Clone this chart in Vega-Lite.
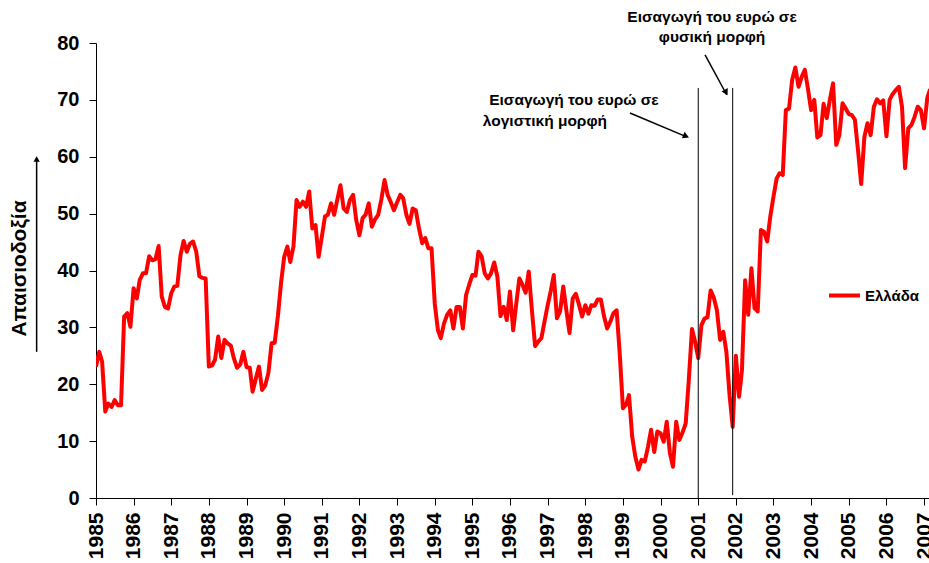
{
  "$schema": "https://vega.github.io/schema/vega-lite/v6.json",
  "width": 833,
  "height": 455,
  "autosize": {"type": "none"},
  "padding": {"left": 96, "top": 43, "right": 0, "bottom": 65},
  "background": "white",
  "config": {
    "view": {"stroke": null},
    "font": "Liberation Sans",
    "axis": {"grid": false, "domainColor": "black", "domainWidth": 1, "tickColor": "black", "tickWidth": 1, "tickSize": 7, "labelColor": "black", "labelFont": "Liberation Sans", "labelFontWeight": "bold", "titleFont": "Liberation Sans", "titleColor": "black", "titleFontWeight": "bold", "titleFontSize": 21}
  },
  "datasets": {
    "greece": [
      {"d":"1985-01","v":23.1},{"d":"1985-02","v":25.7},{"d":"1985-03","v":24},{"d":"1985-04","v":15.2},{"d":"1985-05","v":16.6},{"d":"1985-06","v":16},{"d":"1985-07","v":17.2},{"d":"1985-08","v":16.3},{"d":"1985-09","v":16.3},{"d":"1985-10","v":31.9},{"d":"1985-11","v":32.5},{"d":"1985-12","v":30.1},
      {"d":"1986-01","v":36.9},{"d":"1986-02","v":35.1},{"d":"1986-03","v":38.3},{"d":"1986-04","v":39.5},{"d":"1986-05","v":39.5},{"d":"1986-06","v":42.5},{"d":"1986-07","v":41.8},{"d":"1986-08","v":42},{"d":"1986-09","v":44.3},{"d":"1986-10","v":35.4},{"d":"1986-11","v":33.6},{"d":"1986-12","v":33.3},
      {"d":"1987-01","v":36},{"d":"1987-02","v":37.2},{"d":"1987-03","v":37.3},{"d":"1987-04","v":42.7},{"d":"1987-05","v":45.2},{"d":"1987-06","v":43.3},{"d":"1987-07","v":44.7},{"d":"1987-08","v":45.1},{"d":"1987-09","v":43.3},{"d":"1987-10","v":39},{"d":"1987-11","v":38.7},{"d":"1987-12","v":38.6},
      {"d":"1988-01","v":23.1},{"d":"1988-02","v":23.3},{"d":"1988-03","v":24.3},{"d":"1988-04","v":28.4},{"d":"1988-05","v":24.6},{"d":"1988-06","v":27.8},{"d":"1988-07","v":27.2},{"d":"1988-08","v":26.8},{"d":"1988-09","v":24.5},{"d":"1988-10","v":22.9},{"d":"1988-11","v":23.5},{"d":"1988-12","v":25.7},
      {"d":"1989-01","v":23},{"d":"1989-02","v":22.9},{"d":"1989-03","v":18.7},{"d":"1989-04","v":21},{"d":"1989-05","v":23.1},{"d":"1989-06","v":19},{"d":"1989-07","v":19.8},{"d":"1989-08","v":22},{"d":"1989-09","v":27.2},{"d":"1989-10","v":27.3},{"d":"1989-11","v":32},{"d":"1989-12","v":37.7},
      {"d":"1990-01","v":42.4},{"d":"1990-02","v":44.2},{"d":"1990-03","v":41.5},{"d":"1990-04","v":44.2},{"d":"1990-05","v":52.4},{"d":"1990-06","v":51.2},{"d":"1990-07","v":52.1},{"d":"1990-08","v":51.2},{"d":"1990-09","v":53.9},{"d":"1990-10","v":47.4},{"d":"1990-11","v":48},{"d":"1990-12","v":42.4},
      {"d":"1991-01","v":45.9},{"d":"1991-02","v":49.5},{"d":"1991-03","v":49.8},{"d":"1991-04","v":51.8},{"d":"1991-05","v":49.8},{"d":"1991-06","v":52.5},{"d":"1991-07","v":55},{"d":"1991-08","v":50.9},{"d":"1991-09","v":50.3},{"d":"1991-10","v":52.4},{"d":"1991-11","v":53.3},{"d":"1991-12","v":48.9},
      {"d":"1992-01","v":46.2},{"d":"1992-02","v":49.2},{"d":"1992-03","v":49.8},{"d":"1992-04","v":51.8},{"d":"1992-05","v":47.7},{"d":"1992-06","v":49},{"d":"1992-07","v":49.8},{"d":"1992-08","v":52.5},{"d":"1992-09","v":55.9},{"d":"1992-10","v":53.3},{"d":"1992-11","v":52},{"d":"1992-12","v":50.6},
      {"d":"1993-01","v":52},{"d":"1993-02","v":53.3},{"d":"1993-03","v":52.7},{"d":"1993-04","v":49.8},{"d":"1993-05","v":48.2},{"d":"1993-06","v":50.9},{"d":"1993-07","v":50.6},{"d":"1993-08","v":47.4},{"d":"1993-09","v":44.8},{"d":"1993-10","v":45.7},{"d":"1993-11","v":43.9},{"d":"1993-12","v":43.9},
      {"d":"1994-01","v":34.2},{"d":"1994-02","v":29.5},{"d":"1994-03","v":28.1},{"d":"1994-04","v":30.7},{"d":"1994-05","v":32.2},{"d":"1994-06","v":33},{"d":"1994-07","v":29.8},{"d":"1994-08","v":33.6},{"d":"1994-09","v":33.6},{"d":"1994-10","v":29.8},{"d":"1994-11","v":35.7},{"d":"1994-12","v":37.5},
      {"d":"1995-01","v":39.2},{"d":"1995-02","v":39.1},{"d":"1995-03","v":43.3},{"d":"1995-04","v":42.5},{"d":"1995-05","v":39.5},{"d":"1995-06","v":38.6},{"d":"1995-07","v":39.5},{"d":"1995-08","v":41.4},{"d":"1995-09","v":38.9},{"d":"1995-10","v":32},{"d":"1995-11","v":33.6},{"d":"1995-12","v":31.3},
      {"d":"1996-01","v":36.3},{"d":"1996-02","v":29.5},{"d":"1996-03","v":34},{"d":"1996-04","v":38.6},{"d":"1996-05","v":37.5},{"d":"1996-06","v":36.1},{"d":"1996-07","v":39.8},{"d":"1996-08","v":33},{"d":"1996-09","v":26.7},{"d":"1996-10","v":27.5},{"d":"1996-11","v":28.1},{"d":"1996-12","v":31},
      {"d":"1997-01","v":33.9},{"d":"1997-02","v":36.5},{"d":"1997-03","v":39.2},{"d":"1997-04","v":31.6},{"d":"1997-05","v":32.8},{"d":"1997-06","v":37.2},{"d":"1997-07","v":33},{"d":"1997-08","v":29},{"d":"1997-09","v":35.1},{"d":"1997-10","v":35.9},{"d":"1997-11","v":34},{"d":"1997-12","v":31.9},
      {"d":"1998-01","v":33.9},{"d":"1998-02","v":32.4},{"d":"1998-03","v":33.9},{"d":"1998-04","v":33.8},{"d":"1998-05","v":34.9},{"d":"1998-06","v":34.9},{"d":"1998-07","v":32},{"d":"1998-08","v":29.8},{"d":"1998-09","v":31},{"d":"1998-10","v":32.5},{"d":"1998-11","v":33},{"d":"1998-12","v":25.4},
      {"d":"1999-01","v":15.8},{"d":"1999-02","v":16.4},{"d":"1999-03","v":18.1},{"d":"1999-04","v":10.8},{"d":"1999-05","v":7.3},{"d":"1999-06","v":5},{"d":"1999-07","v":6.7},{"d":"1999-08","v":6.4},{"d":"1999-09","v":9},{"d":"1999-10","v":12},{"d":"1999-11","v":8.1},{"d":"1999-12","v":11.7},
      {"d":"2000-01","v":11.4},{"d":"2000-02","v":9.9},{"d":"2000-03","v":13.4},{"d":"2000-04","v":7.9},{"d":"2000-05","v":5.5},{"d":"2000-06","v":13.4},{"d":"2000-07","v":10.2},{"d":"2000-08","v":11.5},{"d":"2000-09","v":13.1},{"d":"2000-10","v":20.7},{"d":"2000-11","v":29.7},{"d":"2000-12","v":27.5},
      {"d":"2001-01","v":24.6},{"d":"2001-02","v":30.4},{"d":"2001-03","v":31.5},{"d":"2001-04","v":31.8},{"d":"2001-05","v":36.5},{"d":"2001-06","v":35.2},{"d":"2001-07","v":33},{"d":"2001-08","v":27.8},{"d":"2001-09","v":29.2},{"d":"2001-10","v":25.7},{"d":"2001-11","v":18},{"d":"2001-12","v":12.5},
      {"d":"2002-01","v":25},{"d":"2002-02","v":17.8},{"d":"2002-03","v":22.5},{"d":"2002-04","v":38.3},{"d":"2002-05","v":32.2},{"d":"2002-06","v":40.4},{"d":"2002-07","v":33.4},{"d":"2002-08","v":32.8},{"d":"2002-09","v":47.1},{"d":"2002-10","v":46.8},{"d":"2002-11","v":45.1},{"d":"2002-12","v":49.5},
      {"d":"2003-01","v":53},{"d":"2003-02","v":56.2},{"d":"2003-03","v":57.1},{"d":"2003-04","v":56.8},{"d":"2003-05","v":68.2},{"d":"2003-06","v":68.5},{"d":"2003-07","v":73.5},{"d":"2003-08","v":75.7},{"d":"2003-09","v":72.3},{"d":"2003-10","v":74},{"d":"2003-11","v":75.3},{"d":"2003-12","v":72},
      {"d":"2004-01","v":68.2},{"d":"2004-02","v":70},{"d":"2004-03","v":63.4},{"d":"2004-04","v":63.8},{"d":"2004-05","v":69.3},{"d":"2004-06","v":66.8},{"d":"2004-07","v":70},{"d":"2004-08","v":72.9},{"d":"2004-09","v":62.1},{"d":"2004-10","v":63.8},{"d":"2004-11","v":69.4},{"d":"2004-12","v":68.5},
      {"d":"2005-01","v":67.5},{"d":"2005-02","v":67.3},{"d":"2005-03","v":66.5},{"d":"2005-04","v":61},{"d":"2005-05","v":55.2},{"d":"2005-06","v":63.5},{"d":"2005-07","v":65.9},{"d":"2005-08","v":63.8},{"d":"2005-09","v":68.8},{"d":"2005-10","v":70.1},{"d":"2005-11","v":69.4},{"d":"2005-12","v":69.9},
      {"d":"2006-01","v":63.6},{"d":"2006-02","v":70},{"d":"2006-03","v":71},{"d":"2006-04","v":71.7},{"d":"2006-05","v":72.3},{"d":"2006-06","v":68.8},{"d":"2006-07","v":58},{"d":"2006-08","v":65},{"d":"2006-09","v":65.6},{"d":"2006-10","v":67},{"d":"2006-11","v":68.8},{"d":"2006-12","v":68.2},
      {"d":"2007-01","v":65},{"d":"2007-02","v":70.3},{"d":"2007-03","v":71.9}
    ]
  },
  "layer": [
    {
      "data": {"name": "greece"},
      "mark": {"type": "line", "color": "#ff0000", "strokeWidth": 4, "clip": true, "strokeJoin": "round"},
      "encoding": {
        "x": {"field": "d", "type": "temporal", "title": null,
          "scale": {"type": "utc", "domain": [{"year": 1985, "month": 1, "date": 1, "utc": true}, {"year": 2007, "month": 2, "date": 18, "utc": true}]},
          "axis": {"tickCount": {"interval": "year", "step": 1}, "format": "%Y", "labelAngle": -90, "labelFontSize": 21, "labelPadding": 7, "labelOverlap": false, "labelBound": false, "labelFlush": false}},
        "y": {"field": "v", "type": "quantitative", "title": "Απαισιοδοξία",
          "scale": {"domain": [0, 80], "nice": false},
          "axis": {"values": [0, 10, 20, 30, 40, 50, 60, 70, 80], "titleFontSize": 21, "titleFontWeight": "bold", "titleAngle": -90, "titleX": -71, "titleY": 225, "titleAlign": "center", "titleBaseline": "alphabetic", "labelFontSize": 20, "labelPadding": 10}},
        "color": {"datum": "Ελλάδα", "type": "nominal",
          "scale": {"range": ["#ff0000"]},
          "legend": {"title": null, "orient": "none", "legendX": 731, "legendY": 235, "symbolType": "stroke", "symbolSize": 961, "symbolStrokeWidth": 4, "labelFontSize": 15, "labelFontWeight": "bold", "labelColor": "black", "labelOffset": 3, "padding": 0}}
      }
    },
    {
      "data": {"values": [{"d": "2001-01-01", "v": 0, "v2": 72.1}, {"d": "2001-12-01", "v": 0.5, "v2": 72.1}]},
      "mark": {"type": "rule", "color": "black", "strokeWidth": 1},
      "encoding": {"x": {"field": "d", "type": "temporal", "title": null}, "y": {"field": "v", "type": "quantitative", "title": "Απαισιοδοξία"}, "y2": {"field": "v2"}}
    },
    {
      "data": {"values": [
        {"d": "2001-05-15", "v": 84.6, "t": "Εισαγωγή του ευρώ σε"},
        {"d": "2001-05-15", "v": 81.05, "t": "φυσική μορφή"},
        {"d": "1997-09-13", "v": 69.98, "t": "Εισαγωγή του ευρώ σε"},
        {"d": "1996-12-05", "v": 66.29, "t": "λογιστική μορφή"}
      ]},
      "mark": {"type": "text", "fontSize": 15.5, "fontWeight": "bold", "color": "black", "align": "center", "baseline": "middle"},
      "encoding": {"x": {"field": "d", "type": "temporal", "title": null}, "y": {"field": "v", "type": "quantitative", "title": "Απαισιοδοξία"}, "text": {"field": "t"}}
    },
    {
      "data": {"values": [
        {"d": "1999-03-10", "v": 67.7, "d2": "2000-09-11", "v2": 63.5},
        {"d": "2001-03-08", "v": 77.9, "d2": "2001-10-04", "v2": 70.9},
        {"d": "1983-06-05", "v": 25.7, "d2": "1983-06-05", "v2": 59.5}
      ]},
      "mark": {"type": "rule", "color": "black", "strokeWidth": 1.5},
      "encoding": {"x": {"field": "d", "type": "temporal", "title": null}, "y": {"field": "v", "type": "quantitative", "title": "Απαισιοδοξία"}, "x2": {"field": "d2"}, "y2": {"field": "v2"}}
    },
    {
      "data": {"values": [{"d": "2000-09-05", "v": 63.6}]},
      "mark": {"type": "point", "shape": "triangle-up", "filled": true, "color": "black", "size": 50, "angle": 112.7, "opacity": 1},
      "encoding": {"x": {"field": "d", "type": "temporal", "title": null}, "y": {"field": "v", "type": "quantitative", "title": "Απαισιοδοξία"}}
    },
    {
      "data": {"values": [{"d": "2001-09-28", "v": 71.3}]},
      "mark": {"type": "point", "shape": "triangle-up", "filled": true, "color": "black", "size": 50, "angle": 151.5, "opacity": 1},
      "encoding": {"x": {"field": "d", "type": "temporal", "title": null}, "y": {"field": "v", "type": "quantitative", "title": "Απαισιοδοξία"}}
    },
    {
      "data": {"values": [{"d": "1983-06-05", "v": 59.6}]},
      "mark": {"type": "point", "shape": "triangle-up", "filled": true, "color": "black", "size": 40, "opacity": 1},
      "encoding": {"x": {"field": "d", "type": "temporal", "title": null}, "y": {"field": "v", "type": "quantitative", "title": "Απαισιοδοξία"}}
    }
  ]
}
